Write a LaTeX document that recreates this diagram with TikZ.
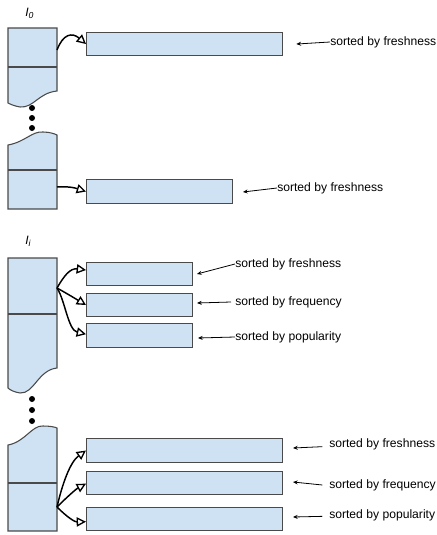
\documentclass[tikz,border=0pt]{standalone}
\usepackage{fontspec}
\setmainfont{Liberation Sans}
\usetikzlibrary{arrows.meta}
\definecolor{boxfill}{HTML}{CFE2F3}
\definecolor{boxline}{HTML}{4A4A4A}
\tikzset{
  listbox/.style={draw=boxline, fill=boxfill, line width=0.8pt},
  colbox/.style={draw=boxline, fill=boxfill, line width=0.8pt},
  divider/.style={draw=boxline, line width=0.8pt},
  link/.style={draw=black, line width=1.1pt, -{Triangle[open, length=7pt, width=7pt, line width=1pt]}},
  note/.style={draw=black, line width=0.6pt, -{Stealth[length=3.5pt, width=3pt]}},
  lbl/.style={anchor=west, inner sep=0pt, font=\fontsize{9.1}{11}\selectfont},
  dot/.style={circle, fill=black, inner sep=0pt, minimum size=4.5pt},
}
\begin{document}
\begin{tikzpicture}[x=0.75pt, y=-0.75pt]
\useasboundingbox (0,0) rectangle (436,535);

% ---------- Block I0 (top) ----------
\node[lbl, font=\fontsize{9.1}{11}\selectfont\itshape] (l0) at (25,13) {I\raisebox{-0.35ex}{\fontsize{6.5}{7}\selectfont 0}};
\draw[colbox] (8,28) -- (57,28) -- (57,91) .. controls (38,93) and (34,108) .. (20,107) .. controls (14,106) and (10,104) .. (8,103) -- cycle;
\draw[divider] (8,67) -- (57,67);
\coordinate (s1) at (57,50);
\node[listbox, minimum width=196*0.75pt, minimum height=23*0.75pt, inner sep=0pt, anchor=north west] (b1) at (86,32) {};
\draw[link] (s1) .. controls (63,34) and (72,32) .. (b1.west);
\node[lbl] (t1) at (330,42) {sorted by freshness};
\draw[note] (t1.west) -- ([xshift=10pt]b1.east);

\node[dot] (d1) at (32,108) {};
\node[dot] (d2) at (32,118) {};
\node[dot] (d3) at (32,128) {};

\draw[colbox] (8,145) .. controls (25,142) and (32,131) .. (43,132) .. controls (50,132) and (55,134) .. (57,135) -- (57,209) -- (8,209) -- cycle;
\draw[divider] (8,170) -- (57,170);
\coordinate (s2) at (57,187);
\node[listbox, minimum width=146*0.75pt, minimum height=24*0.75pt, inner sep=0pt, anchor=north west] (b2) at (86,179) {};
\draw[link] (s2) .. controls (72,186) and (78,189) .. (b2.west);
\node[lbl] (t2) at (277,188) {sorted by freshness};
\coordinate (e2) at (243,192);
\draw[note] (t2.west) -- (e2);

% ---------- Block Ii ----------
\node[lbl, font=\fontsize{9.1}{11}\selectfont\itshape] (li) at (25,241) {I\raisebox{-0.35ex}{\fontsize{6.5}{7}\selectfont i}};
\draw[colbox] (8,258) -- (57,258) -- (57,368) .. controls (38,370) and (34,394) .. (20,393) .. controls (14,392) and (10,390) .. (8,388) -- cycle;
\draw[divider] (8,314) -- (57,314);
\coordinate (s3) at (57,288);
\node[listbox, minimum width=106*0.75pt, minimum height=23*0.75pt, inner sep=0pt, anchor=north west] (b31) at (86,262) {};
\node[listbox, minimum width=106*0.75pt, minimum height=23*0.75pt, inner sep=0pt, anchor=north west] (b32) at (86,293) {};
\node[listbox, minimum width=106*0.75pt, minimum height=24*0.75pt, inner sep=0pt, anchor=north west] (b33) at (86,323) {};
\draw[link] (s3) .. controls (64,276) and (70,268) .. ([yshift=3pt]b31.west);
\draw[link] (s3) .. controls (66,293) and (76,299) .. (b32.west);
\draw[link] (s3) .. controls (65,300) and (68,330) .. ([yshift=1pt]b33.west);
\node[lbl] (t31) at (235,264) {sorted by freshness};
\node[lbl] (t32) at (235,302) {sorted by frequency};
\node[lbl] (t33) at (235,337) {sorted by popularity};
\coordinate (e31) at (197,274);
\coordinate (e32) at (197,303);
\coordinate (e33) at (198,338);
\draw[note] (t31.west) -- (e31);
\draw[note] ([xshift=-3pt]t32.west) -- (e32);
\draw[note] (t33.west) -- (e33);

\node[dot] (d4) at (32,399) {};
\node[dot] (d5) at (32,410) {};
\node[dot] (d6) at (32,421) {};

\draw[colbox] (8,445) .. controls (25,442) and (32,425) .. (43,426) .. controls (50,426) and (55,427) .. (57,428) -- (57,531) -- (8,531) -- cycle;
\draw[divider] (8,483) -- (57,483);
\coordinate (s4) at (57,507);
\node[listbox, minimum width=196*0.75pt, minimum height=24*0.75pt, inner sep=0pt, anchor=north west] (b41) at (86,438) {};
\node[listbox, minimum width=196*0.75pt, minimum height=23*0.75pt, inner sep=0pt, anchor=north west] (b42) at (86,471) {};
\node[listbox, minimum width=196*0.75pt, minimum height=23*0.75pt, inner sep=0pt, anchor=north west] (b43) at (86,507) {};
\draw[link] (s4) .. controls (62,485) and (70,462) .. ([yshift=0pt]b41.west);
\draw[link] (s4) .. controls (66,498) and (76,489) .. ([yshift=-0.5pt]b42.west);
\draw[link] (s4) .. controls (68,518) and (75,522) .. ([yshift=-2pt]b43.west);
\node[lbl] (t41) at (329,444) {sorted by freshness};
\node[lbl] (t42) at (329,485) {sorted by frequency};
\node[lbl] (t43) at (329,515) {sorted by popularity};
\coordinate (e41) at (293,448);
\coordinate (e42) at (293,482);
\coordinate (e43) at (293,517);
\draw[note] ([xshift=-5pt,yshift=-2pt]t41.west) -- (e41);
\draw[note] ([xshift=-5pt]t42.west) -- (e42);
\draw[note] ([xshift=-5pt,yshift=-1pt]t43.west) -- (e43);
\end{tikzpicture}
\end{document}
